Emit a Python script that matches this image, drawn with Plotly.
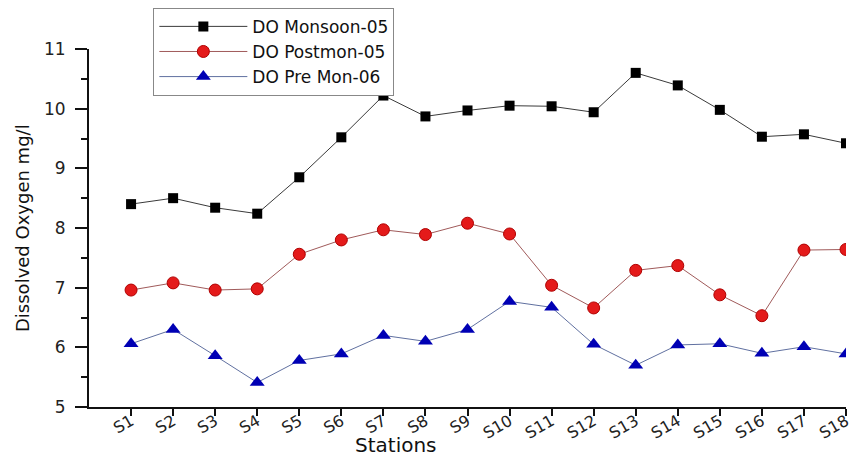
import plotly.graph_objects as go

stations = ["S1", "S2", "S3", "S4", "S5", "S6", "S7", "S8", "S9", "S10",
            "S11", "S12", "S13", "S14", "S15", "S16", "S17", "S18"]
do_monsoon_05 = [8.40, 8.50, 8.34, 8.24, 8.85, 9.52, 10.22, 9.87, 9.97, 10.05,
                 10.04, 9.94, 10.60, 10.39, 9.98, 9.53, 9.57, 9.42]
do_postmon_05 = [6.96, 7.08, 6.96, 6.98, 7.56, 7.80, 7.97, 7.89, 8.08, 7.90,
                 7.04, 6.66, 7.29, 7.37, 6.88, 6.53, 7.63, 7.64]
do_premon_06 = [6.06, 6.30, 5.86, 5.41, 5.78, 5.89, 6.20, 6.10, 6.30, 6.77,
                6.67, 6.05, 5.70, 6.04, 6.06, 5.90, 6.01, 5.89]

series_names = ["DO Monsoon-05", "DO Postmon-05", "DO Pre Mon-06"]

FONT = "DejaVu Sans, Arial, sans-serif"

fig = go.Figure()
fig.add_trace(go.Scatter(
    x=stations, y=do_monsoon_05, name=series_names[0], mode="lines+markers",
    line=dict(color="#3a3a3a", width=1),
    marker=dict(symbol="square", size=10, color="#000000"),
))
fig.add_trace(go.Scatter(
    x=stations, y=do_postmon_05, name=series_names[1], mode="lines+markers",
    line=dict(color="#a05a5a", width=1),
    marker=dict(symbol="circle", size=12, color="#e41a1a",
                line=dict(color="#b00000", width=1)),
))
fig.add_trace(go.Scatter(
    x=stations, y=do_premon_06, name=series_names[2], mode="lines+markers",
    line=dict(color="#6070a0", width=1),
    marker=dict(symbol="triangle-up", size=13, color="#0000b4"),
))

fig.update_layout(
    width=856, height=458,
    margin=dict(l=89, r=4, t=49, b=51),
    paper_bgcolor="white", plot_bgcolor="white",
    font=dict(family=FONT, color="#222222"),
    showlegend=True,
    legend=dict(
        x=0.085, y=1.115, xanchor="left", yanchor="top",
        bgcolor="white", bordercolor="#888888", borderwidth=1,
        font=dict(family=FONT, size=17, color="#111111"),
        itemwidth=88, tracegroupgap=0,
    ),
    xaxis=dict(
        type="category", range=[-1, 17],
        showline=True, linecolor="#111111", linewidth=1.5,
        ticks="outside", ticklen=7, tickwidth=1.5, tickcolor="#111111",
        tickangle=-30, tickfont=dict(family=FONT, size=16, color="#222222"),
        ticklabelstandoff=-10,
        showgrid=False, zeroline=False,
    ),
    yaxis=dict(
        range=[5, 11], dtick=1, tick0=5,
        showline=True, linecolor="#111111", linewidth=2,
        ticks="outside", ticklen=12, tickwidth=1.5, tickcolor="#111111",
        minor=dict(dtick=0.5, ticks="outside", ticklen=6, tickwidth=1.5,
                   tickcolor="#111111"),
        tickfont=dict(family=FONT, size=17, color="#222222"),
        ticklabelstandoff=6,
        showgrid=False, zeroline=False,
    ),
    annotations=[
        dict(text="Stations", xref="paper", yref="paper",
             x=(398 - 89) / 763, y=(407 - 445) / 358, xanchor="center",
             yanchor="middle", showarrow=False,
             font=dict(family=FONT, size=20, color="#111111")),
        dict(text="Dissolved Oxygen mg/l", xref="paper", yref="paper",
             x=0, xshift=-67, y=0.5, xanchor="center", yanchor="middle",
             textangle=-90, showarrow=False,
             font=dict(family=FONT, size=18, color="#111111")),
    ],
)

fig.write_html("out.html")
